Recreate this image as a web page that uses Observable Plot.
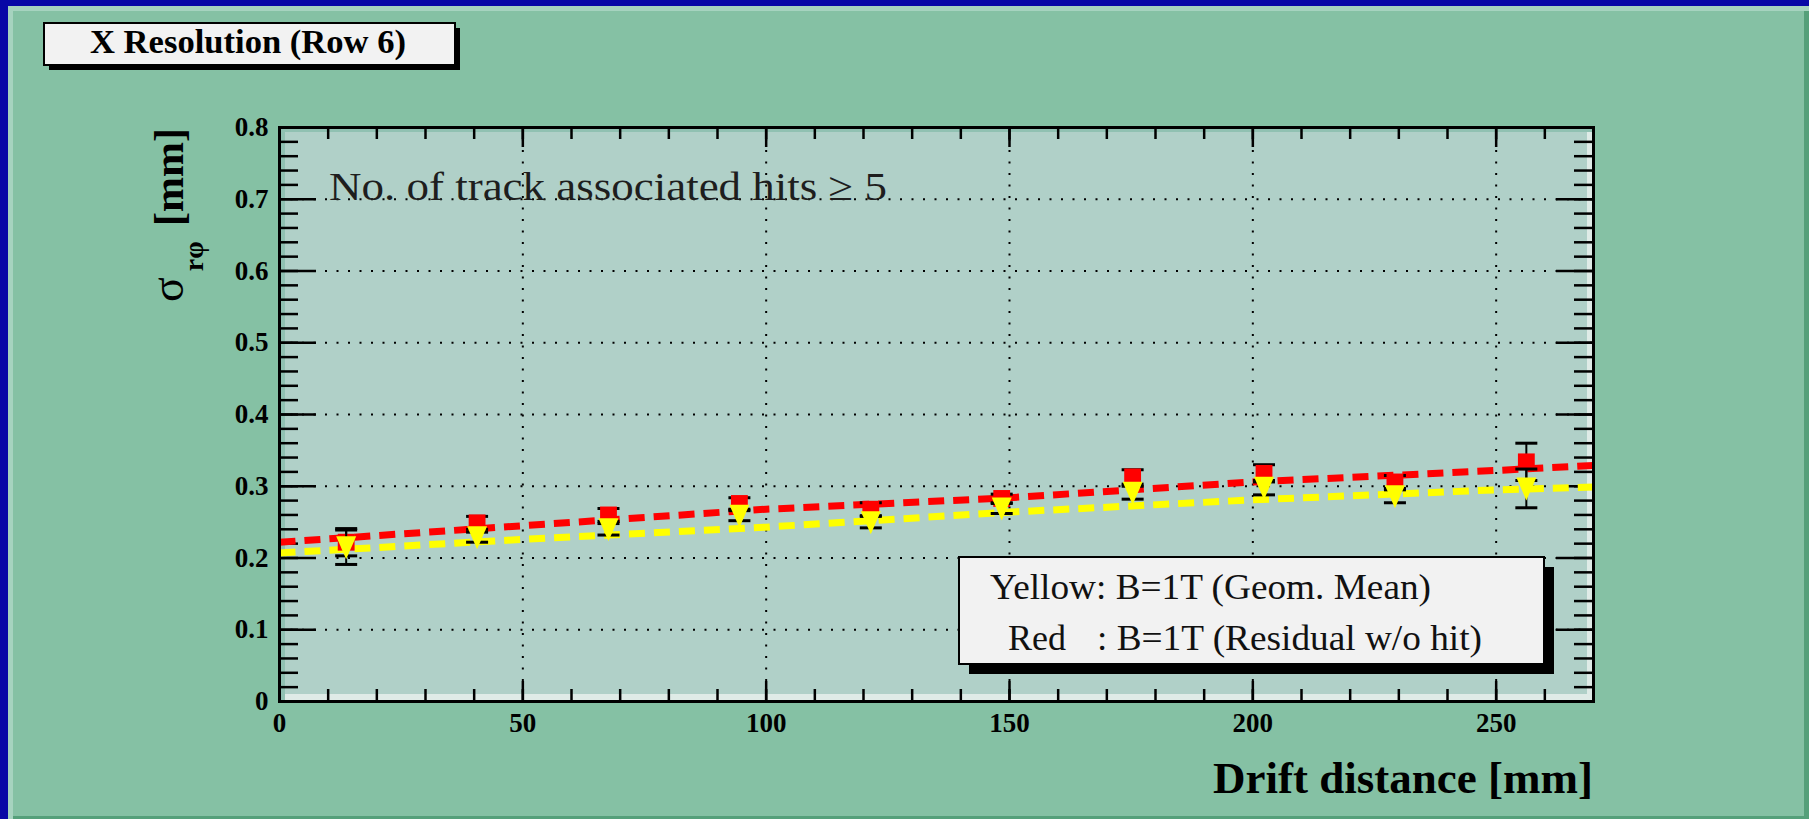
<!DOCTYPE html>
<html>
<head>
<meta charset="utf-8">
<script src="https://cdn.jsdelivr.net/npm/d3@7"></script>
<script src="https://cdn.jsdelivr.net/npm/@observablehq/plot@0.6"></script>
<style>
  html, body { margin: 0; padding: 0; background: #0808a6; }
  #wrap { position: relative; width: 1809px; height: 819px; overflow: hidden; background: #0808a6; }
  #panel { position: absolute; left: 8px; top: 6px; width: 1801px; height: 813px; background: #85c1a4;
           box-shadow: inset 5px 5px 0 #a6d3bf, inset -5px -3px 0 #55a07a; }
  #plotbg { position: absolute; left: 279px; top: 127px; width: 1314px; height: 574px; background: #b0d0c8;
            box-shadow: inset 6px 5px 0 #90c1b2, inset -6px -7px 0 #dfebe7; }
  #chart { position: absolute; left: 0; top: 0; }
  #overlay { position: absolute; left: 0; top: 0; pointer-events: none; }
</style>
</head>
<body>
<div id="wrap">
  <div id="panel"></div>
  <div id="plotbg"></div>
  <div id="chart"></div>
  <svg id="overlay" width="1809" height="819" xmlns="http://www.w3.org/2000/svg"></svg>
</div>
<script>
// ---- data ----
const xDrift      = [13.7, 40.6, 67.6, 94.5, 121.5, 148.4, 175.3, 202.3, 229.2, 256.2];
const redSigma    = [0.222, 0.249, 0.260, 0.276, 0.268, 0.283, 0.313, 0.318, 0.306, 0.334];
const redErr      = [0.019, 0.009, 0.009, 0.008, 0.009, 0.006, 0.010, 0.012, 0.009, 0.026];
const yellowSigma = [0.215, 0.229, 0.240, 0.259, 0.250, 0.269, 0.291, 0.298, 0.286, 0.297];
const yellowErr   = [0.024, 0.007, 0.008, 0.007, 0.008, 0.007, 0.009, 0.010, 0.009, 0.027];
const fitX        = [0, 50, 100, 150, 200, 250, 270];
const redFit      = [0.222, 0.245, 0.268, 0.284, 0.306, 0.322, 0.329];
const yellowFit   = [0.207, 0.226, 0.243, 0.264, 0.281, 0.295, 0.299];
const xTicks      = [0, 50, 100, 150, 200, 250];
const xTickLabels = ["0", "50", "100", "150", "200", "250"];
const yTicks      = [0, 0.1, 0.2, 0.3, 0.4, 0.5, 0.6, 0.7, 0.8];
const yTickLabels = ["0", "0.1", "0.2", "0.3", "0.4", "0.5", "0.6", "0.7", "0.8"];
const xGrid       = [50, 100, 150, 200, 250];
const yGrid       = [0.1, 0.2, 0.3, 0.4, 0.5, 0.6, 0.7];
const titleText   = "X Resolution (Row 6)";
const noteText    = "No. of track associated hits \u2265 5";
const legendYellow = ["Yellow: B=1T (Geom. Mean)"];
const legendRed    = ["Red", ": B=1T (Residual w/o hit)"];
const xTitle = "Drift distance [mm]";

// ---- tables built from the arrays ----
const red = xDrift.map((x, i) => ({x, y: redSigma[i], lo: redSigma[i] - redErr[i], hi: redSigma[i] + redErr[i]}));
const yellow = xDrift.map((x, i) => ({x, y: yellowSigma[i], lo: yellowSigma[i] - yellowErr[i], hi: yellowSigma[i] + yellowErr[i]}));
const redLine = fitX.map((x, i) => ({x, y: redFit[i]}));
const yellowLine = fitX.map((x, i) => ({x, y: yellowFit[i]}));
const xMinor = d3.range(0, 271, 10);
const yMinor = d3.range(0, 0.8001, 0.02);

const W = 1809, H = 819;
const mL = 279, mR = 216, mT = 127, mB = 118;
const iW = W - mL - mR, iH = H - mT - mB;

const capSymbol = { draw(ctx) { ctx.moveTo(-11, 0); ctx.lineTo(11, 0); } };
const triDown = { draw(ctx) { ctx.moveTo(-10, -11); ctx.lineTo(10, -11); ctx.lineTo(0, 12); ctx.closePath(); } };

const font = "'Liberation Serif', 'Times New Roman', serif";

const chart = Plot.plot({
  width: W, height: H,
  marginLeft: mL, marginRight: mR, marginTop: mT, marginBottom: mB,
  x: {domain: [0, 270]},
  y: {domain: [0, 0.8]},
  style: {background: "transparent", fontFamily: font, fontSize: "27px", fontWeight: "bold", color: "#000", overflow: "visible"},
  marks: [
    // dotted grid
    Plot.ruleY(yGrid, {y: d => d, stroke: "#000", strokeWidth: 2, strokeDasharray: "2,9.5"}),
    Plot.ruleX(xGrid, {x: d => d, stroke: "#000", strokeWidth: 2, strokeDasharray: "2,9.5"}),
    // ticks, inward, on all four sides
    Plot.tickY(yMinor, {y: d => d, insetRight: iW - 19, stroke: "#000", strokeWidth: 2.5}),
    Plot.tickY(yTicks, {y: d => d, insetRight: iW - 37, stroke: "#000", strokeWidth: 2.5}),
    Plot.tickY(yMinor, {y: d => d, insetLeft: iW - 19, stroke: "#000", strokeWidth: 2.5}),
    Plot.tickY(yTicks, {y: d => d, insetLeft: iW - 37, stroke: "#000", strokeWidth: 2.5}),
    Plot.tickX(xMinor, {x: d => d, insetTop: iH - 12, stroke: "#000", strokeWidth: 2.5}),
    Plot.tickX(xTicks, {x: d => d, insetTop: iH - 20, stroke: "#000", strokeWidth: 2.5}),
    Plot.tickX(xMinor, {x: d => d, insetBottom: iH - 12, stroke: "#000", strokeWidth: 2.5}),
    Plot.tickX(xTicks, {x: d => d, insetBottom: iH - 20, stroke: "#000", strokeWidth: 2.5}),
    // axis labels
    Plot.axisY({ticks: yTicks, tickSize: 0, tickPadding: 11, tickFormat: (d, i) => yTickLabels[i], label: null,
                fontSize: 27, fontWeight: "bold", fontFamily: font}),
    Plot.axisX({ticks: xTicks, tickSize: 0, tickPadding: 11, tickFormat: (d, i) => xTickLabels[i], label: null,
                fontSize: 27, fontWeight: "bold", fontFamily: font}),
    // fit curves
    Plot.line(redLine, {x: "x", y: "y", stroke: "#ff0000", strokeWidth: 7, strokeDasharray: "16,9", strokeLinecap: "butt"}),
    Plot.line(yellowLine, {x: "x", y: "y", stroke: "#ffff00", strokeWidth: 7, strokeDasharray: "16,9", strokeLinecap: "butt"}),
    // red series
    Plot.ruleX(red, {x: "x", y1: "lo", y2: "hi", stroke: "#000", strokeWidth: 2}),
    Plot.dot(red, {x: "x", y: "lo", symbol: capSymbol, stroke: "#000", strokeWidth: 3, fill: "none"}),
    Plot.dot(red, {x: "x", y: "hi", symbol: capSymbol, stroke: "#000", strokeWidth: 3, fill: "none"}),
    Plot.dot(red, {x: "x", y: "y", symbol: "square", r: 9.5, fill: "#ff0000", stroke: "none"}),
    // yellow series
    Plot.ruleX(yellow, {x: "x", y1: "lo", y2: "hi", stroke: "#000", strokeWidth: 2}),
    Plot.dot(yellow, {x: "x", y: "lo", symbol: capSymbol, stroke: "#000", strokeWidth: 3, fill: "none"}),
    Plot.dot(yellow, {x: "x", y: "hi", symbol: capSymbol, stroke: "#000", strokeWidth: 3, fill: "none"}),
    Plot.dot(yellow, {x: "x", y: "y", symbol: triDown, fill: "#ffff00", stroke: "none"}),
    Plot.frame({stroke: "#000", strokeWidth: 3})
  ]
});
document.getElementById("chart").appendChild(chart);

// ---- annotations (title box, note, legend, axis titles) ----
const ov = d3.select("#overlay");
// title box
ov.append("rect").attr("x", 49).attr("y", 28).attr("width", 411).attr("height", 42).attr("fill", "#000");
ov.append("rect").attr("x", 44).attr("y", 23).attr("width", 411).attr("height", 42).attr("fill", "#f2f2f2").attr("stroke", "#000").attr("stroke-width", 2);
ov.append("text").attr("x", 90).attr("y", 53).attr("font-family", font).attr("font-weight", "bold").attr("font-size", 33)
  .attr("textLength", 316).attr("lengthAdjust", "spacingAndGlyphs").text(titleText);
// note
ov.append("text").attr("x", 329).attr("y", 200).attr("font-family", font).attr("font-size", 40).attr("fill", "#1e1e1e")
  .attr("textLength", 558).attr("lengthAdjust", "spacingAndGlyphs").text(noteText);
// legend
ov.append("rect").attr("x", 969).attr("y", 567).attr("width", 585).attr("height", 107).attr("fill", "#000");
ov.append("rect").attr("x", 959).attr("y", 557).attr("width", 585).attr("height", 107).attr("fill", "#f2f2f2").attr("stroke", "#000").attr("stroke-width", 2);
ov.append("text").attr("x", 990).attr("y", 599).attr("font-family", font).attr("font-size", 36).attr("fill", "#111")
  .attr("textLength", 441).attr("lengthAdjust", "spacingAndGlyphs").text(legendYellow[0]);
ov.append("text").attr("x", 1008).attr("y", 650).attr("font-family", font).attr("font-size", 36).attr("fill", "#111").text(legendRed[0]);
ov.append("text").attr("x", 1097).attr("y", 650).attr("font-family", font).attr("font-size", 36).attr("fill", "#111")
  .attr("textLength", 385).attr("lengthAdjust", "spacingAndGlyphs").text(legendRed[1]);
// y-axis title
const yt = ov.append("text").attr("transform", "translate(183,302) rotate(-90)")
  .attr("font-family", font).attr("font-weight", "bold").attr("font-size", 42).attr("fill", "#000");
yt.append("tspan").attr("font-weight", "normal").attr("font-size", 46).text("\u03c3");
yt.append("tspan").attr("dx", 6).attr("dy", 20).attr("font-size", 28).text("r\u03c6");
yt.append("tspan").attr("x", 76).attr("dy", -20).text("[mm]");
// x-axis title
ov.append("text").attr("x", 1593).attr("y", 793).attr("text-anchor", "end").attr("font-family", font)
  .attr("font-weight", "bold").attr("font-size", 45).attr("fill", "#000").text(xTitle);
</script>
</body>
</html>
